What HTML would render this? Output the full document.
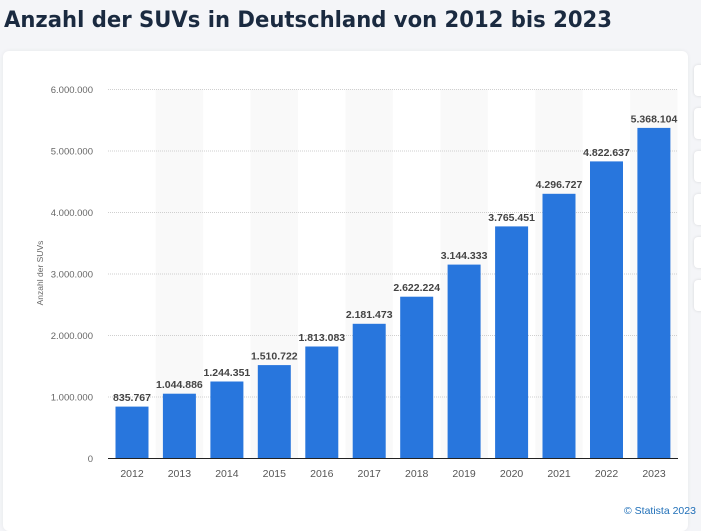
<!DOCTYPE html>
<html><head><meta charset="utf-8"><style>
html,body{margin:0;padding:0;width:701px;height:523px;overflow:hidden;background:#f4f5f8;font-family:"Liberation Sans",sans-serif}
.card{position:absolute;left:3px;top:51px;width:685px;height:480px;background:#fff;border-radius:6px;box-shadow:0 0 4px rgba(0,0,0,0.06)}
.btn{position:absolute;left:694px;width:20px;height:31px;background:#fff;border-radius:4px;box-shadow:0 0 3px rgba(0,0,0,0.12)}
</style></head><body>
<div class="card"></div>
<div class="btn" style="top:65px"></div>
<div class="btn" style="top:108px"></div>
<div class="btn" style="top:151px"></div>
<div class="btn" style="top:194px"></div>
<div class="btn" style="top:237px"></div>
<div class="btn" style="top:280px"></div>
<svg width="701" height="523" style="position:absolute;left:0;top:0" font-family="Liberation Sans, sans-serif">
<text x="4" y="27" font-family="DejaVu Sans, sans-serif" font-size="22.5" font-weight="bold" fill="#1a2a40" textLength="608" lengthAdjust="spacingAndGlyphs">Anzahl der SUVs in Deutschland von 2012 bis 2023</text>
<g fill="#f9f9f9">
<rect x="155.7" y="89" width="47.4" height="369"/><rect x="250.6" y="89" width="47.4" height="369"/><rect x="345.5" y="89" width="47.4" height="369"/><rect x="440.4" y="89" width="47.4" height="369"/><rect x="535.3" y="89" width="47.4" height="369"/><rect x="630.2" y="89" width="47.4" height="369"/>
</g>
<g stroke="#cfcfcf" stroke-width="1" stroke-dasharray="1,1">
<line x1="108" x2="678" y1="89.5" y2="89.5"/><line x1="108" x2="678" y1="151" y2="151"/><line x1="108" x2="678" y1="212.5" y2="212.5"/><line x1="108" x2="678" y1="274" y2="274"/><line x1="108" x2="678" y1="335.5" y2="335.5"/><line x1="108" x2="678" y1="397" y2="397"/>
</g>
<g font-size="9.5" fill="#666" text-anchor="end">
<text x="93" y="93">6.000.000</text><text x="93" y="154.5">5.000.000</text><text x="93" y="216">4.000.000</text><text x="93" y="277.5">3.000.000</text><text x="93" y="339">2.000.000</text><text x="93" y="400.5">1.000.000</text><text x="93" y="462">0</text>
</g>
<text transform="translate(43,273) rotate(-90)" font-size="8.5" fill="#666" text-anchor="middle">Anzahl der SUVs</text>
<g fill="#2876dd">
<rect x="115.5" y="406.6" width="33" height="51.4"/>
<rect x="162.9" y="393.7" width="33" height="64.3"/>
<rect x="210.4" y="381.5" width="33" height="76.5"/>
<rect x="257.8" y="365.1" width="33" height="92.9"/>
<rect x="305.3" y="346.5" width="33" height="111.5"/>
<rect x="352.7" y="323.8" width="33" height="134.2"/>
<rect x="400.2" y="296.7" width="33" height="161.3"/>
<rect x="447.6" y="264.6" width="33" height="193.4"/>
<rect x="495.1" y="226.4" width="33" height="231.6"/>
<rect x="542.5" y="193.8" width="33" height="264.2"/>
<rect x="590.0" y="161.4" width="33" height="296.6"/>
<rect x="637.4" y="127.9" width="33" height="330.1"/>
</g>
<line x1="108" x2="678" y1="458.5" y2="458.5" stroke="#222" stroke-width="1"/>
<g font-size="10.5" font-weight="bold" fill="#444" text-anchor="middle">
<text x="132" y="401">835.767</text><text x="179.4" y="388">1.044.886</text><text x="226.9" y="376">1.244.351</text><text x="274.3" y="359.5">1.510.722</text><text x="321.8" y="341">1.813.083</text><text x="369.2" y="318">2.181.473</text><text x="416.7" y="291">2.622.224</text><text x="464.1" y="259">3.144.333</text><text x="511.6" y="221">3.765.451</text><text x="559" y="188">4.296.727</text><text x="606.5" y="156">4.822.637</text><text x="654" y="122.5">5.368.104</text>
</g>
<g font-size="10.5" fill="#555" text-anchor="middle">
<text x="132" y="477">2012</text><text x="179.4" y="477">2013</text><text x="226.9" y="477">2014</text><text x="274.3" y="477">2015</text><text x="321.8" y="477">2016</text><text x="369.2" y="477">2017</text><text x="416.7" y="477">2018</text><text x="464.1" y="477">2019</text><text x="511.6" y="477">2020</text><text x="559" y="477">2021</text><text x="606.5" y="477">2022</text><text x="654" y="477">2023</text>
</g>
<text x="624" y="514" font-size="10.5" fill="#1f6fb8">© Statista 2023</text>
</svg>
</body></html>
